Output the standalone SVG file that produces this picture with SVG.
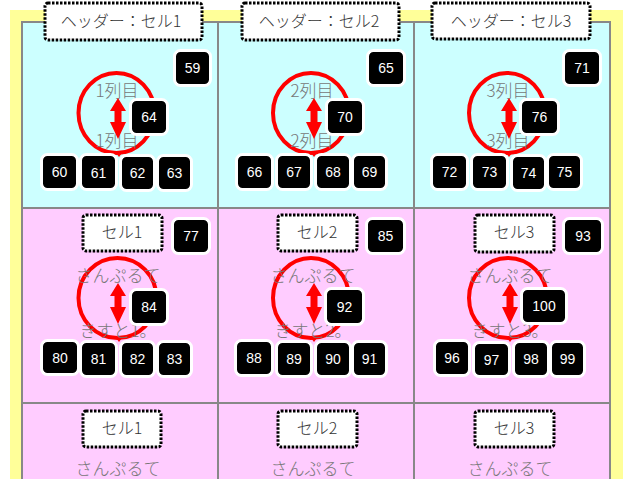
<svg xmlns="http://www.w3.org/2000/svg" width="627" height="479" viewBox="0 0 627 479">
<style>
.lbl{fill:#fff;stroke:#000;stroke-width:3;stroke-dasharray:2.5 1.5}
.lt{font-family:"Noto Sans CJK JP","Noto Sans",sans-serif;font-size:16px;font-weight:300;fill:#333;text-anchor:middle}
.gt{font-family:"Noto Sans CJK JP","Noto Sans",sans-serif;font-size:17px;font-weight:300;fill:#777;text-anchor:middle}
.b{fill:#000;stroke:#fff;stroke-width:3}
.bt{font-family:"Liberation Sans",Arial,sans-serif;font-size:14px;fill:#fff;text-anchor:middle}
.ring{fill:none;stroke:#ff0000;stroke-width:4}
.arr{fill:#ff0000}
.grid{stroke:#888;stroke-width:2;fill:none}
</style>
<defs>
<path id="dbl" d="M0 0 L8 13 L3.5 13 L3.5 24 L8 24 L0 41 L-8 24 L-3.5 24 L-3.5 13 L-8 13 Z"/>
<path id="tick" d="M-3 0 L3 0 L0 4 Z"/>
</defs>
<rect x="0" y="0" width="627" height="479" fill="#fff"/>
<rect x="10" y="10" width="613" height="469" fill="#ffff99"/>
<g id="table">
<rect x="22" y="22" width="588" height="186" fill="#ccffff"/>
<rect x="22" y="208" width="588" height="271" fill="#ffccff"/>
<rect class="grid" x="22" y="22" width="588" height="470"/>
<line class="grid" x1="218" y1="22" x2="218" y2="479"/>
<line class="grid" x1="414" y1="22" x2="414" y2="479"/>
<line class="grid" x1="22" y1="208" x2="610" y2="208"/>
<line class="grid" x1="22" y1="403" x2="610" y2="403"/>
</g>
<g id="ring-r1c1"><ellipse class="ring" cx="116.5" cy="113" rx="38" ry="40"/><use href="#tick" x="119" y="153" class="arr"/><text class="gt" x="117" y="97">1列目</text><text class="gt" x="117" y="147">1列目</text></g>
<g id="ring-r1c2"><ellipse class="ring" cx="311" cy="113" rx="38" ry="40"/><use href="#tick" x="314" y="153" class="arr"/><text class="gt" x="312" y="97">2列目</text><text class="gt" x="312" y="147">2列目</text></g>
<g id="ring-r1c3"><ellipse class="ring" cx="507" cy="113" rx="38" ry="40"/><use href="#tick" x="509" y="153" class="arr"/><text class="gt" x="508" y="97">3列目</text><text class="gt" x="508" y="147">3列目</text></g>
<g id="ring-r2c1"><ellipse class="ring" cx="117.5" cy="298" rx="39" ry="40"/><use href="#tick" x="119" y="338" class="arr"/><text class="gt" x="118" y="282">さんぷるて</text><text class="gt" x="118" y="337">きすと1。</text></g>
<g id="ring-r2c2"><ellipse class="ring" cx="311" cy="298" rx="38" ry="40"/><use href="#tick" x="314" y="338" class="arr"/><text class="gt" x="313" y="282">さんぷるて</text><text class="gt" x="313" y="337">きすと2。</text></g>
<g id="ring-r2c3"><ellipse class="ring" cx="508" cy="298" rx="39" ry="40"/><use href="#tick" x="510" y="338" class="arr"/><text class="gt" x="510" y="282">さんぷるて</text><text class="gt" x="510" y="337">きすと3。</text></g>
<g id="connectors">
<use href="#dbl" class="arr" x="118" y="98"/>
<use href="#dbl" class="arr" x="314" y="98"/>
<use href="#dbl" class="arr" x="509" y="98"/>
<use href="#dbl" class="arr" x="118" y="283"/>
<use href="#dbl" class="arr" x="314" y="283"/>
<use href="#dbl" class="arr" x="510" y="283"/>
</g>
<g id="hdr1"><rect class="lbl" x="45" y="3" width="157" height="37" rx="3"/><text class="lt" x="121" y="27">ヘッダー：セル1</text></g>
<g id="hdr2"><rect class="lbl" x="242" y="3" width="157" height="37" rx="3"/><text class="lt" x="319" y="27">ヘッダー：セル2</text></g>
<g id="hdr3"><rect class="lbl" x="432" y="3" width="158" height="36" rx="3"/><text class="lt" x="511" y="27">ヘッダー：セル3</text></g>
<g id="r2lbl1"><rect class="lbl" x="83" y="215" width="79" height="36" rx="3"/><text class="lt" x="122" y="238">セル1</text></g>
<g id="r2lbl2"><rect class="lbl" x="278" y="215" width="79" height="36" rx="3"/><text class="lt" x="317" y="238">セル2</text></g>
<g id="r2lbl3"><rect class="lbl" x="475" y="215" width="79" height="37" rx="3"/><text class="lt" x="514" y="238">セル3</text></g>
<g id="r3lbl1"><rect class="lbl" x="83" y="411" width="78" height="36" rx="3"/><text class="lt" x="122" y="434">セル1</text></g>
<g id="r3lbl2"><rect class="lbl" x="278" y="411" width="79" height="36" rx="3"/><text class="lt" x="317" y="434">セル2</text></g>
<g id="r3lbl3"><rect class="lbl" x="475" y="411" width="79" height="36" rx="3"/><text class="lt" x="514" y="434">セル3</text></g>
<g id="r3txt1"><text class="gt" x="118" y="475">さんぷるて</text></g>
<g id="r3txt2"><text class="gt" x="313" y="475">さんぷるて</text></g>
<g id="r3txt3"><text class="gt" x="510" y="475">さんぷるて</text></g>
<g id="n59"><rect class="b" x="174.5" y="50.5" width="36" height="35" rx="6"/><text class="bt" x="192.5" y="73">59</text></g>
<g id="n64"><rect class="b" x="130.5" y="99.5" width="37" height="35" rx="6"/><text class="bt" x="149" y="122">64</text></g>
<g id="n60"><rect class="b" x="41.5" y="154.5" width="36" height="35" rx="6"/><text class="bt" x="59.5" y="177">60</text></g>
<g id="n61"><rect class="b" x="80.5" y="154.5" width="36" height="35" rx="6"/><text class="bt" x="98.5" y="177.5">61</text></g>
<g id="n62"><rect class="b" x="120.5" y="155.5" width="34" height="35" rx="6"/><text class="bt" x="137.5" y="178">62</text></g>
<g id="n63"><rect class="b" x="157.5" y="155.5" width="34" height="35" rx="6"/><text class="bt" x="174.5" y="178">63</text></g>
<g id="n65"><rect class="b" x="367.5" y="50.5" width="37" height="35" rx="6"/><text class="bt" x="386" y="73">65</text></g>
<g id="n70"><rect class="b" x="326.5" y="99.5" width="37" height="35" rx="6"/><text class="bt" x="345" y="122">70</text></g>
<g id="n66"><rect class="b" x="236.5" y="154.5" width="36" height="35" rx="6"/><text class="bt" x="254.5" y="177">66</text></g>
<g id="n67"><rect class="b" x="276.5" y="154.5" width="35" height="35" rx="6"/><text class="bt" x="294" y="177">67</text></g>
<g id="n68"><rect class="b" x="315.5" y="154.5" width="35" height="35" rx="6"/><text class="bt" x="333" y="177">68</text></g>
<g id="n69"><rect class="b" x="352.5" y="154.5" width="34" height="35" rx="6"/><text class="bt" x="369.5" y="177">69</text></g>
<g id="n71"><rect class="b" x="563.5" y="50.5" width="37" height="35" rx="6"/><text class="bt" x="582" y="73">71</text></g>
<g id="n76"><rect class="b" x="520.5" y="99.5" width="38" height="35" rx="6"/><text class="bt" x="539.5" y="122">76</text></g>
<g id="n72"><rect class="b" x="431.5" y="154.5" width="36" height="35" rx="6"/><text class="bt" x="449.5" y="177">72</text></g>
<g id="n73"><rect class="b" x="471.5" y="154.5" width="36" height="35" rx="6"/><text class="bt" x="489.5" y="177">73</text></g>
<g id="n74"><rect class="b" x="511.5" y="155.5" width="34" height="35" rx="6"/><text class="bt" x="528.5" y="178">74</text></g>
<g id="n75"><rect class="b" x="547.5" y="154.5" width="34" height="35" rx="6"/><text class="bt" x="564.5" y="177">75</text></g>
<g id="n77"><rect class="b" x="172.5" y="218.5" width="37" height="35" rx="6"/><text class="bt" x="191" y="241">77</text></g>
<g id="n84"><rect class="b" x="130.5" y="289.5" width="37" height="35" rx="6"/><text class="bt" x="149" y="312">84</text></g>
<g id="n80"><rect class="b" x="41.5" y="340.5" width="37" height="34" rx="6"/><text class="bt" x="60" y="362.5">80</text></g>
<g id="n81"><rect class="b" x="80.5" y="341.5" width="36" height="35" rx="6"/><text class="bt" x="98.5" y="364">81</text></g>
<g id="n82"><rect class="b" x="120.5" y="341.5" width="34" height="35" rx="6"/><text class="bt" x="137.5" y="364">82</text></g>
<g id="n83"><rect class="b" x="157.5" y="341.5" width="34" height="35" rx="6"/><text class="bt" x="174.5" y="364">83</text></g>
<g id="n85"><rect class="b" x="366.5" y="218.5" width="38" height="35" rx="6"/><text class="bt" x="385.5" y="241">85</text></g>
<g id="n92"><rect class="b" x="325.5" y="288.5" width="38" height="36" rx="6"/><text class="bt" x="344.5" y="311.5">92</text></g>
<g id="n88"><rect class="b" x="235.5" y="340.5" width="37" height="35" rx="6"/><text class="bt" x="254" y="363">88</text></g>
<g id="n89"><rect class="b" x="276.5" y="341.5" width="35" height="35" rx="6"/><text class="bt" x="294" y="364">89</text></g>
<g id="n90"><rect class="b" x="315.5" y="341.5" width="35" height="35" rx="6"/><text class="bt" x="333" y="364">90</text></g>
<g id="n91"><rect class="b" x="352.5" y="341.5" width="34" height="35" rx="6"/><text class="bt" x="369.5" y="364">91</text></g>
<g id="n93"><rect class="b" x="563.5" y="218.5" width="39" height="35" rx="6"/><text class="bt" x="583" y="241">93</text></g>
<g id="n100"><rect class="b" x="521.5" y="288.5" width="45" height="35" rx="6"/><text class="bt" x="544" y="311">100</text></g>
<g id="n96"><rect class="b" x="434.5" y="340.5" width="35" height="35" rx="6"/><text class="bt" x="452" y="363">96</text></g>
<g id="n97"><rect class="b" x="473.5" y="342.5" width="36" height="34" rx="6"/><text class="bt" x="491.5" y="364.5">97</text></g>
<g id="n98"><rect class="b" x="513.5" y="341.5" width="35" height="35" rx="6"/><text class="bt" x="531" y="364">98</text></g>
<g id="n99"><rect class="b" x="550.5" y="341.5" width="34" height="35" rx="6"/><text class="bt" x="567.5" y="364">99</text></g>
</svg>
